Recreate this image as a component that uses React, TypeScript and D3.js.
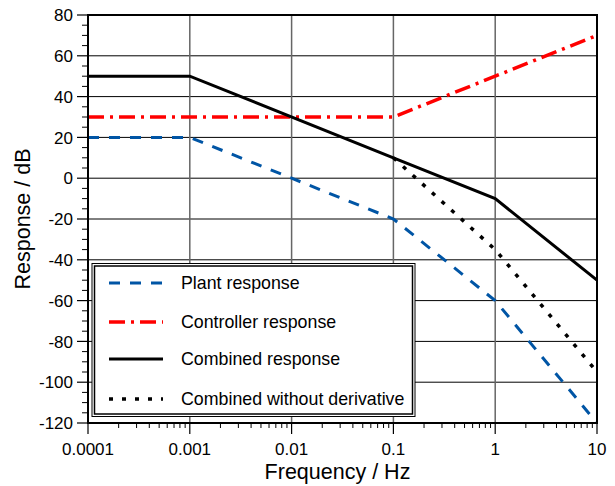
import React from "react";
import * as d3 from "d3";

const plantFreq = [0.0001, 0.001, 0.01, 0.1, 1, 10];
const plantDb = [20, 20, 0, -20, -60, -120];
const controllerFreq = [0.0001, 0.1, 1, 10];
const controllerDb = [30, 30, 50, 70];
const combinedFreq = [0.0001, 0.001, 0.1, 1, 10];
const combinedDb = [50, 50, 10, -10, -50];
const noDerivFreq = [0.1, 1, 10];
const noDerivDb = [10, -35, -95];

const xTicks = [0.0001, 0.001, 0.01, 0.1, 1, 10];
const xTickLabels = ["0.0001", "0.001", "0.01", "0.1", "1", "10"];
const yTicks = [80, 60, 40, 20, 0, -20, -40, -60, -80, -100, -120];

const legendLabels = [
  "Plant response",
  "Controller response",
  "Combined response",
  "Combined without derivative",
];

const W = 615;
const H = 486;
const L = 88;
const R = 597;
const T = 15;
const B = 423;
const FONT = "'Liberation Sans', Arial, sans-serif";

export default function App() {
  const x = d3.scaleLog().domain([0.0001, 10]).range([L, R]);
  const y = d3.scaleLinear().domain([-120, 80]).range([B, T]);

  const mk = (f: number[], v: number[]) =>
    d3
      .line<number>()
      .x((_, i) => x(f[i]))
      .y((d) => y(d))(v) || "";

  const minorX: number[] = [];
  for (let e = -4; e < 1; e++) {
    for (let k = 2; k <= 9; k++) minorX.push(k * Math.pow(10, e));
  }
  const minorY: number[] = d3.range(-120, 81, 5).filter((v) => v % 20 !== 0);

  const styles = [
    { stroke: "#0055a5", width: 3, dash: "11,10" },
    { stroke: "#ff0000", width: 3.5, dash: "16,6,3,6" },
    { stroke: "#000000", width: 3, dash: "" },
    { stroke: "#000000", width: 3.5, dash: "4,9" },
  ];
  const paths = [
    mk(plantFreq, plantDb),
    mk(controllerFreq, controllerDb),
    mk(combinedFreq, combinedDb),
    mk(noDerivFreq, noDerivDb),
  ];
  const legendRows = [283, 322, 359, 399];

  return (
    <svg
      width={W}
      height={H}
      style={{ position: "absolute", left: 0, top: 0, background: "#fff" }}
      fontFamily={FONT}
    >
      <rect x={0} y={0} width={W} height={H} fill="#fff" />
      {/* grid */}
      {yTicks.map((t) => (
        <line key={"gy" + t} x1={L} x2={R} y1={y(t)} y2={y(t)} stroke="#000" strokeWidth={1} />
      ))}
      {xTicks.map((t) => (
        <line key={"gx" + t} x1={x(t)} x2={x(t)} y1={T} y2={B} stroke="#666" strokeWidth={1.5} />
      ))}
      {/* y ticks */}
      {yTicks.map((t) => (
        <g key={"yt" + t}>
          <line x1={L - 11} x2={L} y1={y(t)} y2={y(t)} stroke="#000" strokeWidth={1.2} />
          <text x={73} y={y(t)} dy="0.36em" textAnchor="end" fontSize={17} fill="#000">
            {t}
          </text>
        </g>
      ))}
      {minorY.map((t) => (
        <line key={"my" + t} x1={L - 6} x2={L} y1={y(t)} y2={y(t)} stroke="#000" strokeWidth={1} />
      ))}
      {/* x ticks */}
      {xTicks.map((t, i) => (
        <g key={"xt" + t}>
          <line x1={x(t)} x2={x(t)} y1={B} y2={B + 11} stroke="#000" strokeWidth={1.2} />
          <text x={x(t)} y={455} textAnchor="middle" fontSize={17} fill="#000">
            {xTickLabels[i]}
          </text>
        </g>
      ))}
      {minorX.map((t) => (
        <line key={"mx" + t} x1={x(t)} x2={x(t)} y1={B} y2={B + 5} stroke="#000" strokeWidth={1} />
      ))}
      {/* series */}
      <defs>
        <clipPath id="plotclip">
          <rect x={L} y={T - 3} width={R - L + 3} height={B - T + 6} />
        </clipPath>
      </defs>
      <g clipPath="url(#plotclip)">
        {paths.map((p, i) => (
          <path
            key={"s" + i}
            d={p}
            fill="none"
            stroke={styles[i].stroke}
            strokeWidth={styles[i].width}
            strokeDasharray={styles[i].dash || undefined}
          />
        ))}
      </g>
      {/* frame */}
      <rect x={L} y={T} width={R - L} height={B - T} fill="none" stroke="#000" strokeWidth={2} />
      {/* legend */}
      <rect x={92} y={263.5} width={323} height={153} fill="#fff" stroke="#000" strokeWidth={1} />
      <rect x={94.5} y={266} width={318} height={148} fill="none" stroke="#000" strokeWidth={1.5} />
      {legendLabels.map((lab, i) => (
        <g key={"lg" + i}>
          <line
            x1={109}
            x2={163}
            y1={legendRows[i]}
            y2={legendRows[i]}
            stroke={styles[i].stroke}
            strokeWidth={styles[i].width}
            strokeDasharray={styles[i].dash || undefined}
          />
          <text x={181} y={legendRows[i]} dy="0.36em" fontSize={17.8} fill="#000">
            {lab}
          </text>
        </g>
      ))}
      {/* axis titles */}
      <text x={(L + R) / 2 - 5} y={479} textAnchor="middle" fontSize={21.5} fill="#000">
        Frequency / Hz
      </text>
      <text
        transform={`translate(30, ${(T + B) / 2}) rotate(-90)`}
        textAnchor="middle"
        fontSize={21.5}
        fill="#000"
      >
        Response / dB
      </text>
    </svg>
  );
}
